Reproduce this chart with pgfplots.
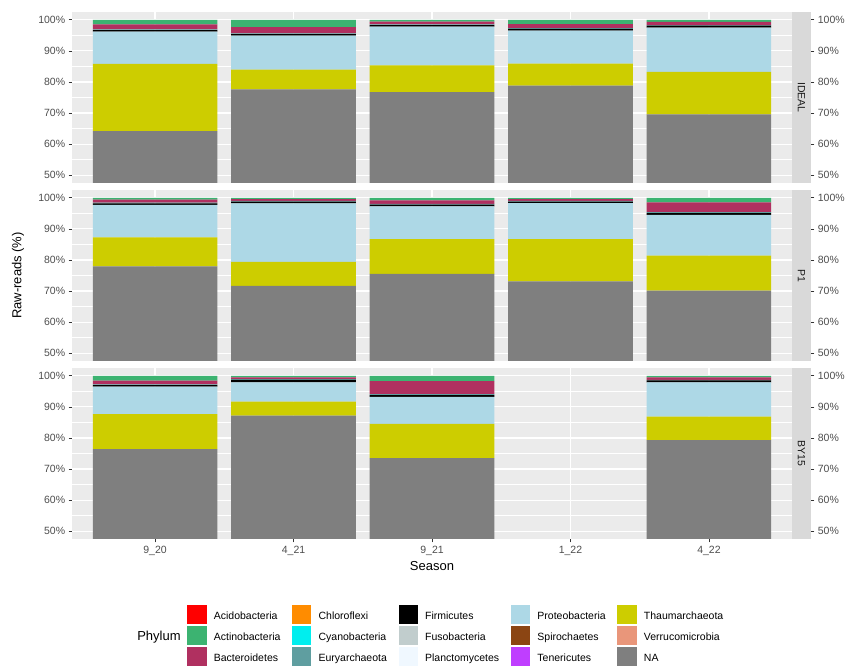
\documentclass[border=0pt]{standalone}
\usepackage{pgfplots}
\pgfplotsset{compat=1.18}
\usepackage{pgfplotstable}
\usepackage{fontspec}
\setmainfont{Liberation Sans}

\definecolor{panelbg}{HTML}{EBEBEB}
\definecolor{stripbg}{HTML}{D9D9D9}
\definecolor{tickcol}{HTML}{333333}
\definecolor{labcol}{HTML}{4D4D4D}
\definecolor{stripcol}{HTML}{1A1A1A}
% phylum palette
\definecolor{cAcido}{HTML}{FF0000}
\definecolor{cActino}{HTML}{3CB371}
\definecolor{cBact}{HTML}{B03060}
\definecolor{cChloro}{HTML}{FF8C00}
\definecolor{cCyano}{HTML}{00EEEE}
\definecolor{cEury}{HTML}{5F9EA0}
\definecolor{cFirm}{HTML}{000000}
\definecolor{cFuso}{HTML}{C1CDCD}
\definecolor{cPlancto}{HTML}{F0F8FF}
\definecolor{cProteo}{HTML}{ADD8E6}
\definecolor{cSpiro}{HTML}{8B4513}
\definecolor{cTeneric}{HTML}{BF3EFF}
\definecolor{cThaum}{HTML}{CDCD00}
\definecolor{cVerruco}{HTML}{E9967A}
\definecolor{cNA}{HTML}{7F7F7F}

\newcommand{\ticklab}{\fontsize{10.5}{12}\selectfont}
\newcommand{\titlefont}{\fontsize{13}{15}\selectfont}

% relative abundance (%) per season, one table per site
\pgfplotstableread{
x NA   Thaum Proteo Firm Eury Bact Actino
0 64.2 21.6  10.4   0.5  0.2  1.6  1.5
1 77.6  6.4  10.9   0.5  0.2  2.0  2.4
2 76.7  8.6  12.5   0.5  0.2  0.9  0.6
3 78.8  7.1  10.6   0.6  0.2  1.3  1.4
4 69.6 13.6  14.3   0.6  0.2  1.0  0.7
}\ideal

\pgfplotstableread{
x NA   Thaum Proteo Firm Eury Bact Actino
0 77.9  9.4  10.4   0.5  0.2  1.0  0.6
1 71.7  7.7  18.8   0.6  0.2  0.6  0.4
2 75.5 11.2  10.5   0.6  0.2  1.2  0.8
3 73.1 13.6  11.6   0.5  0.2  0.6  0.4
4 70.1 11.3  13.1   0.6  0.3  3.1  1.5
}\pone

\pgfplotstableread{
x NA   Thaum Proteo Firm Eury Bact Actino
0 76.4 11.3   8.8   0.5  0.2  1.2  1.6
1 87.2  4.5   6.2   0.8  0.2  0.6  0.5
2 73.5 11.0   8.7   0.6  0.3  4.2  1.7
4 79.3  7.6  11.0   0.6  0.2  0.8  0.5
}\byfifteen

\newcommand{\phylumbars}[1]{%
  \addplot[fill=cNA]     table[x=x,y=NA]{#1};
  \addplot[fill=cThaum]  table[x=x,y=Thaum]{#1};
  \addplot[fill=cProteo] table[x=x,y=Proteo]{#1};
  \addplot[fill=cFirm]   table[x=x,y=Firm]{#1};
  \addplot[fill=cEury]   table[x=x,y=Eury]{#1};
  \addplot[fill=cBact]   table[x=x,y=Bact]{#1};
  \addplot[fill=cActino] table[x=x,y=Actino]{#1};
}

\pgfplotsset{
  panel/.style={
    scale only axis, width=720pt, height=171pt,
    anchor=north west,
    xmin=-0.6, xmax=4.6, ymin=47.5, ymax=102.5,
    axis background/.style={fill=panelbg},
    axis line style={draw=none},
    ybar stacked, bar width=0.9,
    every axis plot/.append style={draw=none},
    xtick={0,...,4},
    ytick={50,60,...,100}, minor ytick={55,65,...,95},
    xmajorgrids, ymajorgrids, yminorgrids,
    major grid style={white, line width=1.2pt},
    minor grid style={white, line width=0.6pt},
    tick align=outside, major tick length=3.3pt, minor tick length=0pt,
    tick style={color=tickcol, line width=0.6pt},
    ytick pos=left,
    yticklabels={50\%,60\%,70\%,80\%,90\%,100\%},
    yticklabel style={font=\ticklab, text=labcol},
    xticklabel style={font=\ticklab, text=labcol},
  },
  notx/.style={xticklabels={}, x tick style={draw=none}},
  rightaxis/.style={
    scale only axis, width=739pt, height=171pt,
    anchor=north west,
    xmin=0, xmax=1, ymin=47.5, ymax=102.5,
    hide x axis, axis y line*=right,
    axis line style={draw=none},
    ytick={50,60,...,100}, minor ytick={},
    tick align=outside, major tick length=3.3pt,
    tick style={color=tickcol, line width=0.6pt},
    yticklabels={50\%,60\%,70\%,80\%,90\%,100\%},
    yticklabel style={font=\ticklab, text=labcol},
  },
  keysq/.style={legend image code/.code={%
      \fill[##1, draw=none] (0pt,-7.3pt) rectangle (19.3pt,11.7pt);}},
}

\begin{document}
\begin{tikzpicture}
\useasboundingbox (0pt,0pt) rectangle (845pt,665pt);

% IDEAL
\begin{axis}[panel, notx, at={(72pt,653pt)}]
  \phylumbars{\ideal}
\end{axis}
\begin{axis}[rightaxis, at={(72pt,653pt)}]
\end{axis}

% P1
\begin{axis}[panel, notx, at={(72pt,475pt)}]
  \phylumbars{\pone}
\end{axis}
\begin{axis}[rightaxis, at={(72pt,475pt)}]
\end{axis}

% BY15
\begin{axis}[panel, at={(72pt,297pt)}, xtick pos=bottom,
    xticklabels={9\_20,4\_21,9\_21,1\_22,4\_22}]
  \phylumbars{\byfifteen}
\end{axis}
\begin{axis}[rightaxis, at={(72pt,297pt)},
    legend columns=5, legend cell align=left,
    legend style={at={(axis description cs:0.156,-0.385)}, anchor=north west,
      draw=none, fill=none, inner sep=0pt, outer sep=0pt,
      row sep=2.2pt,
      nodes={inner sep=0pt, font=\ticklab, text=black},
      /tikz/every odd column/.style={column sep=7.3pt},
      /tikz/every even column/.style={column sep=11.6pt}}]
  \addlegendimage{keysq, fill=cAcido}\addlegendentry{Acidobacteria}
  \addlegendimage{keysq, fill=cChloro}\addlegendentry{Chloroflexi}
  \addlegendimage{keysq, fill=cFirm}\addlegendentry{Firmicutes}
  \addlegendimage{keysq, fill=cProteo}\addlegendentry{Proteobacteria}
  \addlegendimage{keysq, fill=cThaum}\addlegendentry{Thaumarchaeota}
  \addlegendimage{keysq, fill=cActino}\addlegendentry{Actinobacteria}
  \addlegendimage{keysq, fill=cCyano}\addlegendentry{Cyanobacteria}
  \addlegendimage{keysq, fill=cFuso}\addlegendentry{Fusobacteria}
  \addlegendimage{keysq, fill=cSpiro}\addlegendentry{Spirochaetes}
  \addlegendimage{keysq, fill=cVerruco}\addlegendentry{Verrucomicrobia}
  \addlegendimage{keysq, fill=cBact}\addlegendentry{Bacteroidetes}
  \addlegendimage{keysq, fill=cEury}\addlegendentry{Euryarchaeota}
  \addlegendimage{keysq, fill=cPlancto}\addlegendentry{Planctomycetes}
  \addlegendimage{keysq, fill=cTeneric}\addlegendentry{Tenericutes}
  \addlegendimage{keysq, fill=cNA}\addlegendentry{NA}
\end{axis}

% facet strips
\fill[stripbg] (792pt,482pt) rectangle (811pt,653pt);
\fill[stripbg] (792pt,304pt) rectangle (811pt,475pt);
\fill[stripbg] (792pt,126pt) rectangle (811pt,297pt);
\node[rotate=-90, font=\ticklab, text=stripcol] at (801.5pt,567.5pt) {IDEAL};
\node[rotate=-90, font=\ticklab, text=stripcol] at (801.5pt,389.5pt) {P1};
\node[rotate=-90, font=\ticklab, text=stripcol] at (801.5pt,211.5pt) {BY15};

% axis titles and legend title
\node[rotate=90, font=\titlefont] at (18pt,389.5pt) {Raw-reads (\%)};
\node[font=\titlefont] at (432pt,99pt) {Season};
\node[font=\titlefont] at (159pt,28.3pt) {Phylum};
\end{tikzpicture}
\end{document}
